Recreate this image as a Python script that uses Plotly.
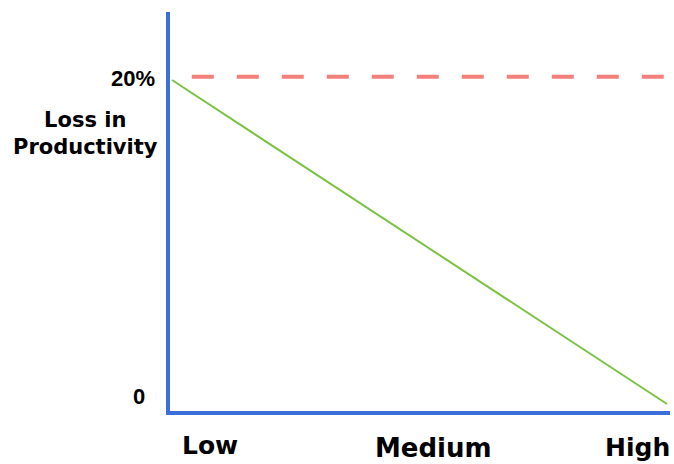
import plotly.graph_objects as go

categories = ["Low", "Medium", "High"]
cat_pos = [0, 1, 2]
loss_values = [20, 10, 0]
target_loss = 20.2
y_tick_labels = ["0", "20%"]
y_tick_vals = [0, 20]
y_title = "Loss in<br>Productivity"

fig = go.Figure()
fig.add_trace(go.Scatter(x=[0.08, 2.02], y=[target_loss, target_loss], mode="lines",
                         line=dict(color="#f3807a", width=4, dash="22px,23px"),
                         hoverinfo="skip"))
fig.add_trace(go.Scatter(x=cat_pos, y=loss_values, mode="lines",
                         line=dict(color="#7cc242", width=2), hoverinfo="skip"))

dv = "DejaVu Sans, sans-serif"
lib = "Liberation Sans, Arial, sans-serif"
ann = []
# x category labels
x_label_pos = [0.154, 1.055, 1.879]
x_label_shift = [-34, -37, -36]
x_label_size = [25, 26, 25]
for c, xp, ys, fs in zip(categories, x_label_pos, x_label_shift, x_label_size):
    ann.append(dict(x=xp, y=0, xref="x", yref="paper", text="<b>%s</b>" % c,
                    showarrow=False, yanchor="middle", xanchor="center", yshift=ys,
                    font=dict(size=fs, family=dv, color="black")))
# y labels
y_label_xshift = [-23, -13]
y_label_yshift = [7.5, 2]
for t, v, xs, ys in zip(y_tick_labels, y_tick_vals, y_label_xshift, y_label_yshift):
    ann.append(dict(x=0, y=v, xref="paper", yref="y", text="<b>%s</b>" % t,
                    showarrow=False, xanchor="right", yanchor="middle", xshift=xs,
                    yshift=ys, font=dict(size=22, family=lib, color="black")))
ann.append(dict(x=0, y=20, xref="paper", yref="y", text="<b>%s</b>" % y_title,
                showarrow=False, xanchor="center", yanchor="middle", xshift=-85, yshift=-53,
                align="center", font=dict(size=21, family=dv, color="black")))

fig.update_layout(
    width=674, height=464,
    margin=dict(l=170, r=4, t=12, b=53),
    plot_bgcolor="white", paper_bgcolor="white",
    showlegend=False,
    hovermode=False,
    annotations=ann,
    xaxis=dict(range=[-0.008, 2.012], showgrid=False, zeroline=False, showticklabels=False,
               ticks="", showline=True, linecolor="#3b6fd9", linewidth=4),
    yaxis=dict(range=[-0.432, 24.2], showgrid=False, zeroline=False, showticklabels=False,
               ticks="", showline=True, linecolor="#3b6fd9", linewidth=4),
)
fig.write_html("out.html", config={"displayModeBar": False},
               post_script="document.body.style.margin='0';document.body.style.overflow='hidden';")
